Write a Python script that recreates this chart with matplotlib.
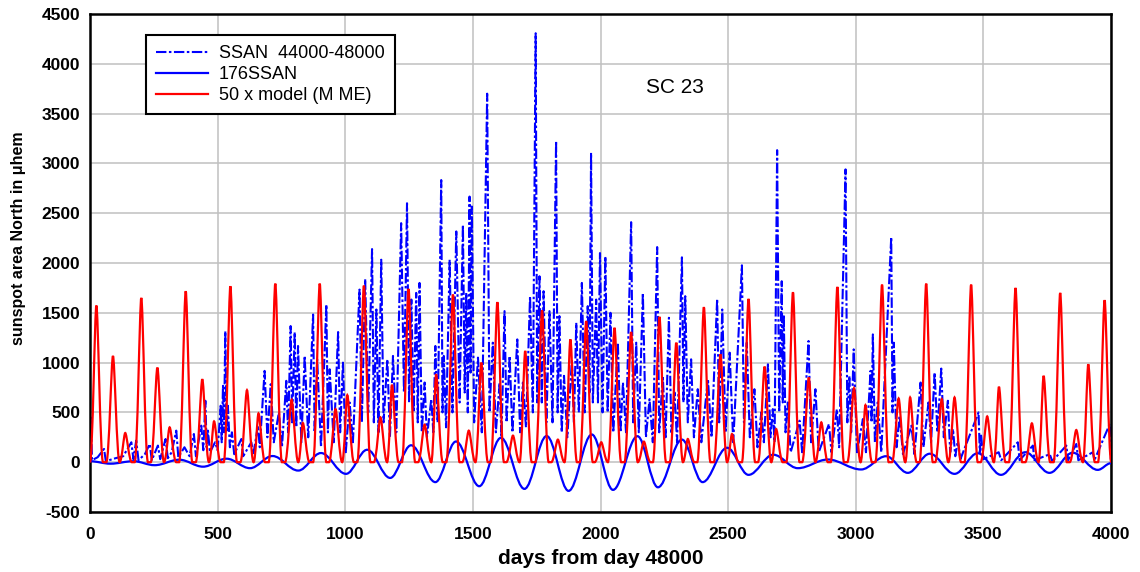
import matplotlib
matplotlib.use("Agg")
import matplotlib.pyplot as plt
from matplotlib.path import Path
from matplotlib.patches import PathPatch
from matplotlib.lines import Line2D

plt.rcParams["font.family"] = ["Liberation Sans", "DejaVu Sans"]
plt.rcParams["axes.unicode_minus"] = False

# ---- data ----
x_ticks = [0, 500, 1000, 1500, 2000, 2500, 3000, 3500, 4000]
y_ticks = [-500, 0, 500, 1000, 1500, 2000, 2500, 3000, 3500, 4000, 4500]
labels = ["SSAN  44000-48000", "176SSAN", "50 x model (M ME)"]

# daily sunspot area (spikes and the dips between them), (day, value)
ssan_raw = [
    (0, 0), (3, 450), (8, 20), (30, 50), (55, 133), (62, 10), (100, 40), (130, 60),
    (162, 200), (170, 30), (181, 217), (190, 20), (215, 80), (234, 183), (242, 20),
    (266, 167), (275, 30), (296, 233), (305, 40), (320, 100), (338, 317), (346, 50),
    (370, 150), (390, 60), (407, 283), (415, 60), (436, 367), (444, 120), (452, 617),
    (457, 150), (462, 317), (470, 100), (490, 200), (500, 120), (512, 567), (516, 200),
    (521, 767), (525, 300), (530, 1317), (535, 300), (540, 567), (548, 150), (556, 300),
    (565, 80), (593, 233), (600, 60), (632, 200), (640, 80), (658, 367), (665, 150),
    (684, 917), (695, 250), (708, 783), (720, 200), (740, 500), (752, 150), (769, 817),
    (776, 300), (786, 1367), (792, 400), (802, 1307), (808, 350), (815, 1167), (828, 200),
    (841, 1067), (855, 250), (874, 1483), (880, 300), (890, 1033), (905, 150), (926, 1583),
    (932, 300), (939, 933), (955, 200), (972, 1307), (980, 300), (991, 1000), (1002, 100),
    (1017, 600), (1030, 200), (1056, 1733), (1065, 400), (1078, 1840), (1090, 500),
    (1105, 2140), (1112, 400), (1122, 1533), (1130, 300), (1141, 2033), (1150, 400),
    (1165, 1033), (1175, 250), (1187, 1067), (1200, 300), (1219, 2400), (1230, 700),
    (1242, 2600), (1250, 600), (1259, 1633), (1268, 500), (1278, 1700), (1284, 400),
    (1291, 1800), (1300, 300), (1311, 800), (1320, 250), (1337, 633), (1345, 300),
    (1353, 1167), (1362, 400), (1376, 2833), (1381, 500), (1386, 1067), (1395, 350),
    (1409, 2033), (1420, 500), (1435, 2317), (1448, 600), (1461, 2383), (1468, 700),
    (1474, 1700), (1480, 500), (1487, 2667), (1491, 900), (1496, 2567), (1505, 400),
    (1520, 1050), (1535, 300), (1556, 3700), (1565, 500), (1578, 1200), (1590, 300),
    (1605, 800), (1612, 250), (1624, 1517), (1632, 400), (1644, 1067), (1655, 300),
    (1674, 1233), (1685, 300), (1696, 800), (1708, 350), (1724, 1667), (1735, 500),
    (1746, 4307), (1752, 600), (1761, 1867), (1770, 600), (1777, 1717), (1788, 400),
    (1800, 1517), (1812, 400), (1826, 3227), (1832, 500), (1839, 1467), (1848, 300),
    (1857, 867), (1870, 250), (1888, 1033), (1896, 400), (1905, 1400), (1915, 500),
    (1927, 1800), (1938, 500), (1950, 1567), (1957, 700), (1963, 3107), (1970, 600),
    (1983, 1633), (1990, 600), (1998, 2100), (2008, 500), (2019, 2067), (2028, 500),
    (2039, 1500), (2050, 300), (2068, 1200), (2078, 300), (2088, 800), (2100, 300),
    (2120, 2410), (2128, 400), (2140, 1200), (2150, 300), (2166, 1700), (2178, 250),
    (2192, 633), (2205, 200), (2222, 2160), (2230, 300), (2244, 867), (2255, 250),
    (2268, 1450), (2278, 300), (2290, 700), (2300, 200), (2319, 2057), (2325, 600),
    (2332, 1667), (2342, 400), (2355, 1033), (2366, 250), (2381, 733), (2395, 200),
    (2421, 833), (2435, 250), (2457, 1640), (2465, 400), (2477, 1533), (2490, 300),
    (2506, 1100), (2520, 200), (2554, 1977), (2562, 400), (2573, 1200), (2585, 250),
    (2603, 733), (2615, 150), (2630, 500), (2640, 200), (2656, 983), (2666, 250),
    (2675, 533), (2682, 200), (2692, 3133), (2700, 500), (2710, 1817), (2714, 600),
    (2718, 1483), (2725, 300), (2734, 600), (2745, 100), (2780, 417), (2790, 100),
    (2815, 1217), (2825, 200), (2842, 733), (2855, 100), (2895, 383), (2905, 100),
    (2926, 533), (2935, 150), (2960, 2940), (2967, 400), (2975, 867), (2982, 300),
    (2992, 1133), (3005, 100), (3028, 433), (3040, 100), (3058, 917), (3062, 400),
    (3067, 1283), (3075, 200), (3086, 600), (3100, 100), (3139, 2260), (3144, 500),
    (3149, 1200), (3160, 150), (3172, 467), (3185, 80), (3218, 367), (3230, 80),
    (3254, 800), (3265, 150), (3285, 600), (3295, 200), (3309, 900), (3320, 300),
    (3335, 940), (3345, 250), (3361, 617), (3370, 100), (3381, 333), (3390, 60),
    (3400, 217), (3410, 30), (3481, 500), (3486, 100), (3491, 267), (3500, 30),
    (3560, 100), (3570, 20), (3635, 200), (3642, 20), (3694, 167), (3700, 20),
    (3760, 80), (3770, 10), (3825, 167), (3832, 20), (3864, 183), (3872, 20),
    (3929, 100), (3935, 20), (3995, 383), (4000, 0),
]
ssan_day, ssan_val = zip(*ssan_raw)

# 176-day filtered series: turning points
osc_day = [0, 80, 170, 253, 350, 443, 535, 627, 715, 816, 905, 1003, 1086, 1176, 1258,
           1353, 1434, 1525, 1610, 1702, 1789, 1875, 1966, 2049, 2145, 2225, 2319, 2400,
           2496, 2580, 2677, 2773, 2891, 3021, 3119, 3204, 3290, 3387, 3478, 3569, 3664,
           3759, 3850, 3948, 4000]
osc_val = [10, -15, 10, -30, 25, -45, 35, -60, 62, -84, 92, -117, 125, -158, 170,
           -200, 208, -241, 245, -268, 263, -288, 278, -278, 261, -252, 227, -200,
           145, -127, 75, -60, 27, -73, 60, -107, 85, -117, 90, -127, 100,
           -107, 95, -77, -10]

# model peaks (x50): centre day and height
model_day = [25, 90, 138, 201, 264, 312, 375, 440, 486, 550, 615, 660, 726, 790, 834,
             900, 962, 1008, 1073, 1138, 1183, 1248, 1311, 1356, 1422, 1484, 1533, 1596,
             1657, 1705, 1771, 1833, 1882, 1944, 2003, 2055, 2120, 2170, 2231, 2297, 2342,
             2405, 2470, 2515, 2580, 2643, 2688, 2754, 2816, 2865, 2928, 2993, 3038, 3103,
             3168, 3213, 3276, 3337, 3387, 3452, 3515, 3561, 3626, 3690, 3736, 3801, 3864,
             3911, 3975]
model_peak = [1573, 1067, 293, 1650, 950, 350, 1717, 833, 410, 1767, 723, 490, 1793, 627, 393,
              1793, 533, 673, 1773, 450, 777, 1740, 377, 883, 1683, 317, 1000, 1607,
              267, 1117, 1523, 227, 1233, 1417, 200, 1350, 1307, 207, 1460, 1200, 233,
              1557, 1083, 283, 1640, 960, 333, 1707, 850, 400, 1760, 743, 573, 1783,
              640, 650, 1793, 633, 650, 1783, 460, 757, 1750, 390, 867, 1700, 323,
              983, 1627]
half_width = 26


def smooth_path(xs, ys, ctrl):
    # cubic bezier through turning points, flat tangent at each one
    verts = [(xs[0], ys[0])]
    codes = [Path.MOVETO]
    for i in range(1, len(xs)):
        x0, y0, x1, y1 = xs[i - 1], ys[i - 1], xs[i], ys[i]
        span = x1 - x0
        verts += [(x0 + ctrl(y0) * span, y0), (x1 - ctrl(y1) * span, y1), (x1, y1)]
        codes += [Path.CURVE4] * 3
    return Path(verts, codes)


# model curve points: base - peak - base for every peak
mx, my = [0], [0]
for c, h in zip(model_day, model_peak):
    left = max(c - half_width, mx[-1])
    if left > mx[-1]:
        mx.append(left)
        my.append(0)
    mx += [c, c + half_width]
    my += [h, 0]

BLUE = "#0000ff"
RED = "#ff0000"
ssan_style = (0, (5, 1.2, 1.2, 1.2))

fig = plt.figure(figsize=(11.40, 5.72), dpi=100)
ax = fig.add_axes([90 / 1140, 60 / 572, 1021 / 1140, 498 / 572])

ax.plot(ssan_day, ssan_val, color=BLUE, lw=1.5, linestyle=ssan_style, zorder=2)
ax.add_patch(PathPatch(smooth_path(osc_day, osc_val, lambda y: 0.36),
                       fill=False, ec=BLUE, lw=1.6, zorder=3))
ax.add_patch(PathPatch(smooth_path(mx, my, lambda y: 0.42 if y == 0 else 0.25),
                       fill=False, ec=RED, lw=1.6, zorder=4))

ax.set_xlim(0, 4000)
ax.set_ylim(-500, 4500)
ax.set_xticks(x_ticks)
ax.set_yticks(y_ticks)
ax.grid(color="#c0c0c0", lw=1.1)
ax.set_axisbelow(True)
ax.tick_params(length=0, labelsize=12.5)
ax.tick_params(axis="x", pad=11)
ax.tick_params(axis="y", pad=7)
for lab in ax.get_xticklabels() + ax.get_yticklabels():
    lab.set_fontweight("bold")
for sp in ax.spines.values():
    sp.set_linewidth(1.8)

ax.text(2291, 3765, "SC 23", fontsize=15, ha="center", va="center")

handles = [
    Line2D([], [], color=BLUE, lw=1.5, linestyle=ssan_style),
    Line2D([], [], color=BLUE, lw=1.6),
    Line2D([], [], color=RED, lw=1.6),
]
leg = ax.legend(handles, labels, loc="upper left",
                bbox_to_anchor=((146 - 90) / 1021, (512 - 35) / 498),
                fontsize=13, frameon=True, fancybox=False, framealpha=1,
                edgecolor="black", handlelength=2.9, handletextpad=0.6,
                labelspacing=0.22, borderpad=0.55, borderaxespad=0)
leg.get_frame().set_linewidth(1.5)

fig.text(601 / 1140, 1 - 558 / 572, "days from day 48000", fontsize=15,
         fontweight="bold", ha="center", va="center")
fig.text(19 / 1140, 1 - 238 / 572, "sunspot area North in μhem", fontsize=11.5,
         fontweight="bold", ha="center", va="center", rotation=90)

fig.savefig("out.png", dpi=100)
